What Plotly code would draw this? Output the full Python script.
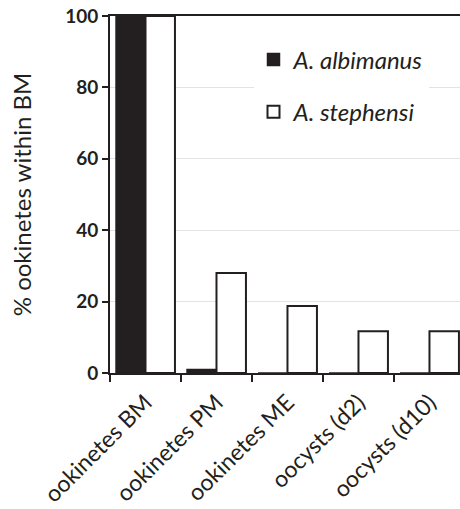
import plotly.graph_objects as go

categories = ["ookinetes BM", "ookinetes PM", "ookinetes ME", "oocysts (d2)", "oocysts (d10)"]
albimanus = [100, 1, 0, 0, 0]
stephensi = [100, 28, 18.8, 11.7, 11.7]
y_ticks = [0, 20, 40, 60, 80, 100]

font_family = "Lato, 'Open Sans', sans-serif"

fig = go.Figure()
fig.add_trace(go.Bar(
    x=categories, y=albimanus, name="<i>A. albimanus</i>",
    marker=dict(color="#231f20", line=dict(color="#231f20", width=1.5)),
    legendgroup="a",
))
fig.add_trace(go.Bar(
    x=categories, y=stephensi, name="<i>A. stephensi</i>",
    marker=dict(color="white", line=dict(color="#231f20", width=2)),
    legendgroup="b",
))

fig.update_layout(
    width=460, height=509,
    margin=dict(l=110, r=0, t=16, b=136),
    paper_bgcolor="white", plot_bgcolor="white",
    barmode="group", bargap=0.17, bargroupgap=0.0,
    font=dict(family=font_family, size=20, color="#231f20"),
    showlegend=True,
    legend=dict(
        x=0.41, y=0.94, xanchor="left", yanchor="top",
        bgcolor="white", font=dict(size=24, color="#231f20"),
        tracegroupgap=18, traceorder="grouped",
    ),
    xaxis=dict(
        range=[-0.5, 4.43], tickson="boundaries", ticks="outside", ticklen=7,
        tickwidth=2, tickcolor="#231f20", showline=True, linecolor="#231f20",
        linewidth=2, mirror=True, tickangle=-45, showgrid=False, automargin=False,
        tickfont=dict(size=23, color="#231f20"), ticklabelstandoff=5,
    ),
    yaxis=dict(
        range=[0, 100], tickvals=y_ticks, ticks="outside", ticklen=6, tickwidth=2,
        tickcolor="#231f20", showline=True, linecolor="#231f20", linewidth=2,
        showgrid=True, gridcolor="#e3e3e3", gridwidth=1, zeroline=False, automargin=False,
        tickfont=dict(size=19, color="#231f20", family="Lato, sans-serif", weight="bold"),
        title=dict(text="% ookinetes within BM", font=dict(size=24, color="#231f20"), standoff=27),
    ),
)

fig.write_html("out.html", config={"displayModeBar": False},
               post_script="document.body.style.margin='0';")
